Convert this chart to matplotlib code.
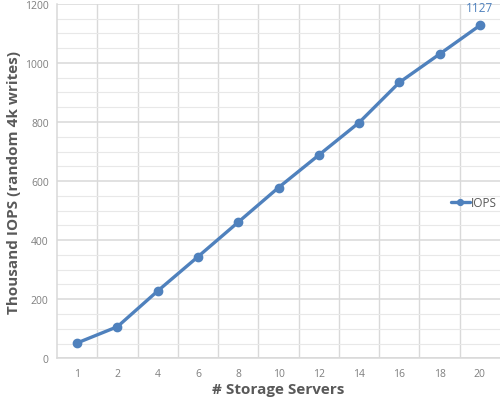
import matplotlib.pyplot as plt
from matplotlib.ticker import MultipleLocator

servers = ['1', '2', '4', '6', '8', '10', '12', '14', '16', '18', '20']
iops = [52, 107, 228, 344, 461, 578, 688, 798, 934, 1030, 1127]

blue = '#4f81bd'
grid = '#d9d9d9'

plt.rcParams['font.family'] = ['Open Sans', 'DejaVu Sans']

fig = plt.figure(figsize=(5, 4.06), dpi=100)
ax = fig.add_axes([0.114, 0.115, 0.886, 0.873])

x = list(range(len(servers)))
ax.plot(x, iops, color=blue, linewidth=2.4, marker='o', markersize=6, label='IOPS',
        solid_capstyle='round', zorder=3)
ax.annotate(str(iops[-1]), (x[-1], iops[-1]), xytext=(0, 8), textcoords='offset points',
            ha='center', va='bottom', color=blue, fontsize=8.5)

ax.set_xlim(-0.5, len(servers) - 0.5)
ax.set_ylim(0, 1200)
ax.set_xticks(x)
ax.set_xticklabels(servers)
ax.set_xticks([i + 0.5 for i in x[:-1]], minor=True)
ax.yaxis.set_major_locator(MultipleLocator(200))
ax.yaxis.set_minor_locator(MultipleLocator(50))

ax.grid(which='major', axis='y', color=grid, linewidth=1.1)
ax.grid(which='minor', axis='y', color='#e8e8e8', linewidth=0.8)
ax.grid(which='minor', axis='x', color=grid, linewidth=1.0)
ax.set_axisbelow(True)
ax.tick_params(which='both', length=0)
ax.tick_params(axis='both', colors='#7f7f7f', labelsize=7.5)
ax.tick_params(axis='x', pad=7)
ax.tick_params(axis='y', pad=6)

for side in ['top', 'right']:
    ax.spines[side].set_visible(False)
for side in ['left', 'bottom']:
    ax.spines[side].set_color(grid)
    ax.spines[side].set_linewidth(1.1)

ax.set_xlabel('# Storage Servers', fontsize=11, fontweight='bold', color='#595959', labelpad=2)
ax.set_ylabel('Thousand IOPS (random 4k writes)', fontsize=11, fontweight='bold',
              color='#595959', labelpad=3)

ax.legend(loc='center left', bbox_to_anchor=(0.865, 0.44), frameon=False, fontsize=8.5,
          handlelength=1.6, handletextpad=0.1, labelcolor='#595959', markerscale=0.7)

fig.savefig('out.png', dpi=100)
